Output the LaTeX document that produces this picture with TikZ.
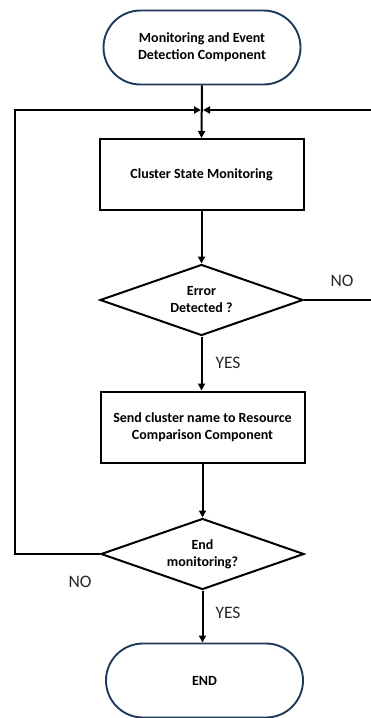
\documentclass[tikz,border=0pt]{standalone}
\usepackage{fontspec}
\setmainfont{Carlito}
\usetikzlibrary{shapes.geometric,arrows.meta}
\definecolor{termblue}{HTML}{1F3A5A}
\definecolor{labelgray}{HTML}{262626}
\tikzset{
  terminal/.style={draw=termblue, line width=1.9pt, rounded corners=37pt,
    minimum width=197pt, minimum height=74pt, inner sep=0pt,
    align=center, font=\fontsize{14}{17}\selectfont\bfseries},
  process/.style={draw=black, line width=2pt, minimum width=204pt,
    minimum height=71pt, inner sep=0pt, align=center,
    font=\fontsize{14}{17}\selectfont\bfseries},
  decision/.style={draw=black, line width=2pt, diamond, shape aspect=2.85,
    minimum width=203pt, minimum height=71pt, inner sep=0pt, align=center,
    font=\fontsize{14}{17}\selectfont\bfseries},
  answer/.style={text=labelgray, inner sep=0pt, font=\fontsize{17.5}{20}\selectfont},
  flow/.style={draw=black, line width=2pt,
    -{Triangle[length=7pt,width=7pt]}},
  plainflow/.style={draw=black, line width=2pt},
}
\begin{document}
\begin{tikzpicture}[x=1pt,y=-1pt]
\clip (0,0) rectangle (371,718);
\useasboundingbox (0,0) rectangle (371,718);

% nodes
\node[terminal] (start) at (202,47.5) {Monitoring and Event\\Detection Component};
\node[process] (monitor) at (201.5,174.5) {Cluster State Monitoring};
\node[decision] (err) at (201.5,300) {Error\\Detected ?};
\node[process] (send) at (202.5,427) {Send cluster name to Resource\\Comparison Component};
\node[decision] (stop) at (202.5,554) {End\\monitoring?};
\node[terminal] (finish) at (204.5,680.5) {END};

% branch labels
\node[answer] (yes1) at (228,363) {YES};
\node[answer] (no1) at (342,281) {NO};
\node[answer] (no2) at (80,582) {NO};
\node[answer] (yes2) at (228,613) {YES};

% merge point above the monitoring step and loop corners
\coordinate (merge) at (202,110);
\coordinate (rtop) at (380,110);
\coordinate (rbot) at (380,300);
\coordinate (ltop) at (15,110);
\coordinate (lbot) at (15,554);

% main flow
\draw[flow] (start.south) -- (monitor.north);
\draw[flow] (monitor.south) -- (err.north);
\draw[flow] (err.south) -- (send.north -| err.south);
\draw[flow] (send.south) -- (stop.north);
\draw[flow] (stop.south) -- (finish.north -| stop.south);

% loops back to the merge point
\draw[flow, shorten >=1pt] (err.east) -- (rbot) -- (rtop) -- (merge);
\draw[flow, shorten >=1pt] (stop.west) -- (lbot) -- (ltop) -- (merge);
\end{tikzpicture}
\end{document}
